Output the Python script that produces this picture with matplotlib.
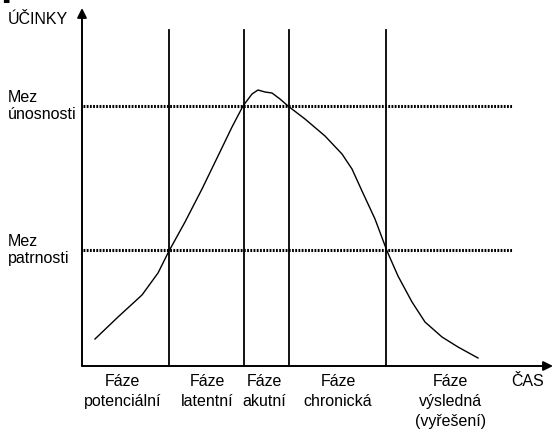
import matplotlib.pyplot as plt

# průběh účinků v čase (čas a účinky v libovolných jednotkách)
cas = [1.3, 3.6, 6.0, 7.6, 8.7, 10.3, 12.0, 13.6, 15.0, 16.1, 17.0, 17.6,
       18.3, 19.0, 19.8, 20.6, 22.3, 24.3, 26.0, 27.0, 28.0, 29.3, 30.5,
       31.6, 33.0, 34.3, 36.0, 37.6, 39.6]
ucinky = [2.7, 4.9, 7.1, 9.3, 11.5, 14.4, 17.7, 21.0, 23.9, 26.0, 27.2, 27.6,
          27.4, 27.3, 26.7, 26.0, 24.7, 23.0, 21.2, 19.7, 17.5, 14.7, 11.5,
          9.0, 6.4, 4.4, 2.9, 1.9, 0.8]

# hranice fází a meze
hranice_fazi = [8.7, 16.2, 20.7, 30.4]
meze = [26.0, 11.6]
popisky_mezi = ['Mez\núnosnosti', 'Mez\npatrnosti']

faze = ['Fáze\npotenciální', 'Fáze\nlatentní', 'Fáze\nakutní',
        'Fáze\nchronická', 'Fáze\nvýsledná\n(vyřešení)']
stredy_fazi = [4.05, 12.5, 18.25, 25.6, 36.85]

plt.rcParams['font.family'] = ['Liberation Sans', 'DejaVu Sans']

fig = plt.figure(figsize=(5.52, 4.35), dpi=100)
ax = fig.add_axes([0, 0, 1, 1])
ax.set_xlim(-8.2, 47.0)
ax.set_ylim(-6.8, 36.7)
ax.axis('off')

# osy se šipkami
sipka = dict(arrowstyle='-|>', color='black', lw=1.4,
             mutation_scale=14, shrinkA=0, shrinkB=0)
ax.annotate('', xy=(47.1, 0), xytext=(0, 0), arrowprops=sipka,
            annotation_clip=False)
ax.annotate('', xy=(0, 35.8), xytext=(0, 0), arrowprops=sipka,
            annotation_clip=False)

# svislé hranice fází
for h in hranice_fazi:
    ax.plot([h, h], [0, 33.6], color='black', lw=1.3)

# meze tečkovaně
for m in meze:
    ax.plot([0.1, 43.0], [m, m], color='black', lw=2.2, linestyle=(0, (0.6, 0.45)))

ax.plot(cas, ucinky, color='black', lw=1.0)

fs = 11.5
ax.text(-7.4, 34.8, 'ÚČINKY', fontsize=fs, ha='left', va='center')
for m, t in zip(meze, popisky_mezi):
    ax.text(-7.4, m + 0.1, t, fontsize=fs, ha='left', va='center', linespacing=1.2)

for x, t in zip(stredy_fazi, faze):
    ax.text(x, -0.7, t, fontsize=fs, ha='center', va='top', linespacing=1.4)
ax.text(44.6, -0.7, 'ČAS', fontsize=fs, ha='center', va='top')

# nadpis nad obrázkem (oříznutý)
fig.text(0.0, 1.0 + 6 / 435, 'proces', fontsize=30, fontweight='bold',
         ha='left', va='baseline')

fig.savefig('out.png', dpi=100)
